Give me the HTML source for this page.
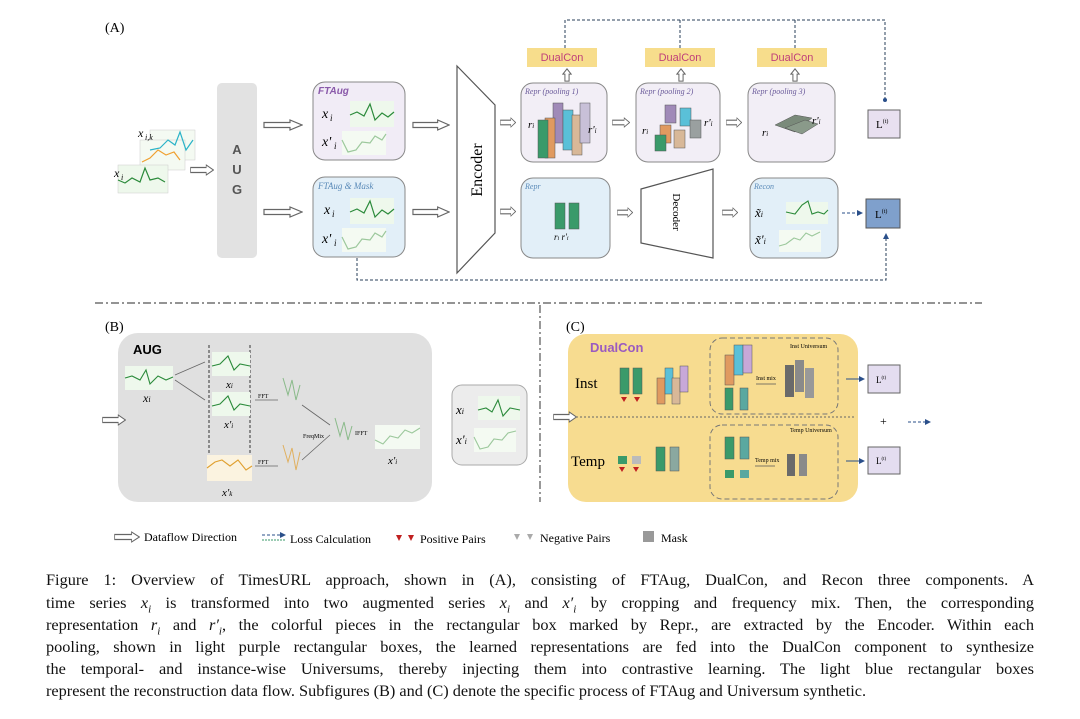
<!DOCTYPE html>
<html><head><meta charset="utf-8"><style>
html,body{margin:0;padding:0;background:#fff;}
#wrap{position:relative;width:1080px;height:719px;overflow:hidden;font-family:"Liberation Serif",serif;}
svg{position:absolute;left:0;top:0;}
.cap{position:absolute;left:46px;width:988px;font-size:16.3px;line-height:22px;color:#111;text-align:justify;text-align-last:justify;white-space:nowrap;}
.cap.last{text-align-last:left;}
i{font-style:italic}
</style></head><body><div id="wrap">
<svg width="1080" height="719" viewBox="0 0 1080 719" font-family="Liberation Serif, serif">
<defs>
<symbol id="ha" viewBox="0 0 40 12" preserveAspectRatio="none"><polygon points="1,3.5 27,3.5 27,1 39,6 27,11 27,8.5 1,8.5" fill="#fff" stroke="#666" stroke-width="1.2"/></symbol>
<symbol id="ua" viewBox="0 0 12 16" preserveAspectRatio="none"><polygon points="3.5,15 3.5,7 1,7 6,1 11,7 8.5,7 8.5,15" fill="#fff" stroke="#666" stroke-width="1.2"/></symbol>
<marker id="mk" markerWidth="6" markerHeight="6" refX="5" refY="3" orient="auto"><path d="M0,0 L6,3 L0,6z" fill="#2a4f8a"/></marker>
</defs>
<text x="105" y="32" font-size="14">(A)</text>
<!-- inputs -->
<g>
<rect x="150" y="130" width="45" height="30" fill="#f4faf2" stroke="#ccc" stroke-width=".5"/>
<rect x="140" y="140" width="45" height="30" fill="#f4faf2" stroke="#ccc" stroke-width=".5"/>
<polyline points="150,150 160,148 168,140 175,145 180,132 186,150 193,140" fill="none" stroke="#2ab3c8" stroke-width="1.2"/>
<polyline points="142,162 150,158 158,150 166,155 174,152 180,160" fill="none" stroke="#f0a030" stroke-width="1.2"/>
<rect x="118" y="165" width="50" height="28" fill="#eef8ec" stroke="#ccc" stroke-width=".5"/>
<polyline points="118,180 125,183 132,178 140,182 145,168 150,180 158,178 165,182" fill="none" stroke="#2a8a3a" stroke-width="1.2"/>
<text x="138" y="137" font-size="12" font-style="italic">x</text><text x="145" y="140" font-size="8" font-style="italic">i,k</text>
<text x="114" y="177" font-size="12" font-style="italic">x</text><text x="121" y="180" font-size="8" font-style="italic">i</text>
</g>
<use href="#ha" x="190" y="164" width="24" height="12"/>
<rect x="217" y="83" width="40" height="175" rx="5" fill="#e2e2e2"/>
<g font-family="Liberation Sans, sans-serif" font-size="13" fill="#555" text-anchor="middle" font-weight="bold"><text x="237" y="154">A</text><text x="237" y="174">U</text><text x="237" y="194">G</text></g>
<use href="#ha" x="263" y="119" width="40" height="12"/>
<use href="#ha" x="263" y="206" width="40" height="12"/>
<!-- FTAug -->
<rect x="313" y="82" width="92" height="78" rx="12" fill="#f1ecf6" stroke="#888" stroke-width="1"/>
<text x="318" y="94" font-size="10" font-style="italic" font-weight="bold" fill="#8a5aaa" font-family="Liberation Sans, sans-serif">FTAug</text>
<text x="322" y="118" font-size="14" font-style="italic">x</text><text x="330" y="121" font-size="9" font-style="italic">i</text>
<text x="322" y="146" font-size="14" font-style="italic">x'</text><text x="334" y="149" font-size="9" font-style="italic">i</text>
<rect x="350" y="101" width="44" height="26" fill="#eef8ec"/><polyline points="350,115 357,112 364,116 370,104 375,120 382,113 388,117 394,112" fill="none" stroke="#2a8a3a" stroke-width="1.2"/>
<rect x="342" y="131" width="44" height="24" fill="#f4faf2"/><polyline points="342,140 348,152 356,150 362,142 370,143 375,136 382,140 386,134" fill="none" stroke="#9cc89c" stroke-width="1.2"/>
<!-- FTAug & Mask -->
<rect x="313" y="177" width="92" height="80" rx="12" fill="#e2eff8" stroke="#888" stroke-width="1"/>
<text x="318" y="189" font-size="9" font-style="italic" fill="#5a8ab8">FTAug &amp; Mask</text>
<text x="324" y="214" font-size="14" font-style="italic">x</text><text x="332" y="217" font-size="9" font-style="italic">i</text>
<text x="322" y="243" font-size="14" font-style="italic">x'</text><text x="334" y="246" font-size="9" font-style="italic">i</text>
<rect x="350" y="198" width="44" height="26" fill="#eef8ec"/><polyline points="350,212 357,209 364,213 370,201 375,217 382,210 388,214 394,209" fill="none" stroke="#2a8a3a" stroke-width="1.2"/>
<rect x="342" y="228" width="44" height="24" fill="#f4faf2"/><polyline points="342,237 348,249 356,247 362,239 370,240 375,233 382,237 386,231" fill="none" stroke="#9cc89c" stroke-width="1.2"/>
<use href="#ha" x="412" y="119" width="38" height="12"/>
<use href="#ha" x="412" y="206" width="38" height="12"/>
<!-- Encoder -->
<polygon points="457,66 495,105 495,233 457,273" fill="#fff" stroke="#555" stroke-width="1.2"/>
<text transform="translate(482,170) rotate(-90)" font-size="16" text-anchor="middle">Encoder</text>
<use href="#ha" x="500" y="117" width="16" height="11"/>
<use href="#ha" x="500" y="206" width="16" height="11"/>
<!-- Repr top boxes -->
<g>
<rect x="521" y="83" width="86" height="79" rx="12" fill="#f2eef6" stroke="#888"/>
<text x="525" y="94" font-size="8" font-style="italic" fill="#6a5a9a">Repr  (pooling 1)</text>
<rect x="553" y="103" width="10" height="40" fill="#a08ab8" stroke="#555" stroke-width=".5"/>
<rect x="563" y="110" width="10" height="40" fill="#5ac0d8" stroke="#555" stroke-width=".5"/>
<rect x="545" y="118" width="10" height="40" fill="#e09a60" stroke="#555" stroke-width=".5"/>
<rect x="538" y="120" width="10" height="38" fill="#3a9a6a" stroke="#555" stroke-width=".5"/>
<rect x="572" y="115" width="10" height="40" fill="#d8b898" stroke="#555" stroke-width=".5"/>
<rect x="580" y="103" width="10" height="40" fill="#c8c0d8" stroke="#555" stroke-width=".5"/>
<text x="528" y="128" font-size="11" font-style="italic">r<tspan font-size="7">i</tspan></text>
<text x="588" y="133" font-size="11" font-style="italic">r'<tspan font-size="7">i</tspan></text>
</g>
<g>
<rect x="636" y="83" width="84" height="79" rx="12" fill="#f2eef6" stroke="#888"/>
<text x="640" y="94" font-size="8" font-style="italic" fill="#6a5a9a">Repr  (pooling 2)</text>
<rect x="665" y="105" width="11" height="18" fill="#a08ab8" stroke="#555" stroke-width=".5"/>
<rect x="680" y="108" width="11" height="18" fill="#5ac0d8" stroke="#555" stroke-width=".5"/>
<rect x="660" y="125" width="11" height="18" fill="#e09a60" stroke="#555" stroke-width=".5"/>
<rect x="655" y="135" width="11" height="16" fill="#3a9a6a" stroke="#555" stroke-width=".5"/>
<rect x="674" y="130" width="11" height="18" fill="#d8b898" stroke="#555" stroke-width=".5"/>
<rect x="690" y="120" width="11" height="18" fill="#9aa0a0" stroke="#555" stroke-width=".5"/>
<text x="642" y="134" font-size="11" font-style="italic">r<tspan font-size="7">i</tspan></text>
<text x="704" y="126" font-size="11" font-style="italic">r'<tspan font-size="7">i</tspan></text>
</g>
<g>
<rect x="748" y="83" width="87" height="79" rx="12" fill="#f2eef6" stroke="#888"/>
<text x="752" y="94" font-size="8" font-style="italic" fill="#6a5a9a">Repr  (pooling 3)</text>
<polygon points="775,125 795,115 812,118 795,132" fill="#7a8a7a" stroke="#555" stroke-width=".5"/>
<polygon points="785,128 805,120 818,124 802,134" fill="#8a9a8a" stroke="#555" stroke-width=".5"/>
<text x="762" y="136" font-size="11" font-style="italic">r<tspan font-size="7">i</tspan></text>
<text x="812" y="124" font-size="11" font-style="italic">r'<tspan font-size="7">i</tspan></text>
</g>
<use href="#ha" x="612" y="117" width="18" height="11"/>
<use href="#ha" x="726" y="117" width="16" height="11"/>
<!-- DualCon -->
<g font-family="Liberation Sans, sans-serif" font-size="11" fill="#c0407a" text-anchor="middle">
<rect x="527" y="48" width="70" height="19" fill="#f7dd8c"/><text x="562" y="61">DualCon</text>
<rect x="645" y="48" width="70" height="19" fill="#f7dd8c"/><text x="680" y="61">DualCon</text>
<rect x="757" y="48" width="70" height="19" fill="#f7dd8c"/><text x="792" y="61">DualCon</text>
</g>
<use href="#ua" x="562" y="68" width="10" height="14"/>
<use href="#ua" x="676" y="68" width="10" height="14"/>
<use href="#ua" x="790" y="68" width="10" height="14"/>
<path d="M565,48 V20 H885 V98 M680,20 V48 M795,20 V48" fill="none" stroke="#2a3f5a" stroke-width="1" stroke-dasharray="3,2"/>
<circle cx="885" cy="100" r="2" fill="#2a4f8a"/>
<rect x="868" y="110" width="32" height="28" fill="#e8e0f0" stroke="#666"/>
<text x="876" y="128" font-size="11">L<tspan font-size="6" dy="-5">(t)</tspan></text>
<!-- bottom row -->
<rect x="521" y="178" width="89" height="80" rx="12" fill="#e2eff8" stroke="#888"/>
<text x="525" y="189" font-size="8" font-style="italic" fill="#5a8ab8">Repr</text>
<rect x="555" y="203" width="10" height="26" fill="#3a9a6a" stroke="#555" stroke-width=".5"/>
<rect x="569" y="203" width="10" height="26" fill="#3a9a6a" stroke="#555" stroke-width=".5"/>
<text x="554" y="240" font-size="9" font-style="italic">r<tspan font-size="6">i</tspan>  r'<tspan font-size="6">i</tspan></text>
<use href="#ha" x="617" y="207" width="16" height="11"/>
<polygon points="641,189 713,169 713,258 641,243" fill="#fff" stroke="#555" stroke-width="1.2"/>
<text transform="translate(673,212) rotate(90)" font-size="11" text-anchor="middle">Decoder</text>
<use href="#ha" x="722" y="207" width="16" height="11"/>
<rect x="750" y="178" width="88" height="80" rx="12" fill="#e2eff8" stroke="#888"/>
<text x="754" y="189" font-size="8" font-style="italic" fill="#5a8ab8">Recon</text>
<text x="755" y="217" font-size="13" font-style="italic">x̃<tspan font-size="8">i</tspan></text>
<text x="755" y="244" font-size="13" font-style="italic">x̃'<tspan font-size="8">i</tspan></text>
<rect x="786" y="202" width="42" height="22" fill="#eef8ec"/><polyline points="786,212 795,214 802,205 808,201 812,214 818,212 824,214 828,210" fill="none" stroke="#2a8a3a" stroke-width="1.1"/>
<rect x="779" y="230" width="42" height="22" fill="#f4faf2"/><polyline points="779,246 786,244 794,238 800,240 806,233 812,236 820,232" fill="none" stroke="#9cc89c" stroke-width="1.1"/>
<line x1="842" y1="213" x2="862" y2="213" stroke="#2a4f8a" stroke-dasharray="3,2" marker-end="url(#mk)"/>
<rect x="866" y="199" width="34" height="29" fill="#7fa0cc" stroke="#555"/>
<text x="875" y="218" font-size="11">L<tspan font-size="6" dy="-5">(t)</tspan></text>
<path d="M357,258 V280 H886 V234" fill="none" stroke="#2a3f5a" stroke-width="1" stroke-dasharray="3,2" marker-end="url(#mk)"/>
<!-- separators -->
<line x1="95" y1="303" x2="982" y2="303" stroke="#555" stroke-width="1.2" stroke-dasharray="8,3,2,3"/>
<line x1="540" y1="305" x2="540" y2="502" stroke="#555" stroke-width="1.2" stroke-dasharray="8,3,2,3"/>
<!-- (B) -->
<text x="105" y="331" font-size="14">(B)</text>
<rect x="118" y="333" width="314" height="169" rx="20" fill="#e0e0e0"/>
<text x="133" y="354" font-size="13" font-weight="bold" font-family="Liberation Sans, sans-serif">AUG</text>
<use href="#ha" x="102" y="414" width="24" height="12"/>
<rect x="125" y="366" width="48" height="24" fill="#eef8ec"/><polyline points="125,378 132,376 140,380 146,370 150,384 158,376 166,380 173,377" fill="none" stroke="#2a8a3a" stroke-width="1.1"/>
<text x="143" y="402" font-size="12" font-style="italic">x<tspan font-size="8">i</tspan></text>
<line x1="209" y1="345" x2="209" y2="480" stroke="#333" stroke-dasharray="3,2"/>
<line x1="250" y1="345" x2="250" y2="480" stroke="#333" stroke-dasharray="3,2"/>
<rect x="212" y="352" width="38" height="24" fill="#eef8ec"/><polyline points="212,366 220,364 228,356 234,370 240,364 250,366" fill="none" stroke="#2a8a3a" stroke-width="1.1"/>
<text x="226" y="388" font-size="11" font-style="italic">x<tspan font-size="7">i</tspan></text>
<rect x="212" y="392" width="38" height="24" fill="#eef8ec"/><polyline points="212,406 220,404 228,396 234,410 240,404 250,406" fill="none" stroke="#2a8a3a" stroke-width="1.1"/>
<text x="224" y="428" font-size="11" font-style="italic">x'<tspan font-size="7">i</tspan></text>
<rect x="207" y="455" width="45" height="26" fill="#fbf3e0"/><polyline points="207,468 215,462 222,460 230,466 238,460 246,470 252,466" fill="none" stroke="#e0a030" stroke-width="1.1"/>
<text x="222" y="496" font-size="11" font-style="italic">x'<tspan font-size="7">k</tspan></text>
<path d="M175,375 L205,362 M175,380 L205,400" stroke="#666" stroke-width=".8"/>
<path d="M255,400 L278,400 M255,466 L278,466" stroke="#666" stroke-width=".8"/>
<text x="258" y="398" font-size="6">FFT</text><text x="258" y="464" font-size="6">FFT</text>
<polyline points="283,378 288,395 292,380 296,400 300,385" fill="none" stroke="#8aba8a"/>
<polyline points="283,445 288,462 292,448 296,470 300,452" fill="none" stroke="#e0b060"/>
<path d="M302,405 L330,425 M302,460 L330,435" stroke="#666" stroke-width=".8"/>
<text x="303" y="438" font-size="6">FreqMix</text>
<polyline points="335,418 340,436 344,422 348,440 352,426" fill="none" stroke="#8aba8a"/>
<text x="355" y="435" font-size="6">IFFT</text>
<rect x="375" y="425" width="45" height="24" fill="#f4faf2"/><polyline points="375,440 383,444 390,436 398,438 405,430 412,433 420,428" fill="none" stroke="#9cc89c" stroke-width="1.1"/>
<text x="388" y="464" font-size="11" font-style="italic">x'<tspan font-size="7">i</tspan></text>
<rect x="452" y="385" width="75" height="80" rx="10" fill="#ececec" stroke="#aaa"/>
<text x="456" y="414" font-size="13" font-style="italic">x<tspan font-size="8">i</tspan></text>
<text x="456" y="444" font-size="13" font-style="italic">x'<tspan font-size="8">i</tspan></text>
<rect x="478" y="396" width="42" height="24" fill="#eef8ec"/><polyline points="478,410 486,408 492,412 498,400 503,416 510,408 520,410" fill="none" stroke="#2a8a3a" stroke-width="1.1"/>
<rect x="474" y="428" width="42" height="24" fill="#f4faf2"/><polyline points="474,437 480,449 488,447 494,439 502,440 508,433 516,431" fill="none" stroke="#9cc89c" stroke-width="1.1"/>
<!-- (C) -->
<text x="566" y="331" font-size="14">(C)</text>
<rect x="568" y="334" width="290" height="168" rx="18" fill="#f7dc90"/>
<text x="590" y="352" font-size="13" font-weight="bold" fill="#9a5ac0" font-family="Liberation Sans, sans-serif">DualCon</text>
<text x="575" y="388" font-size="15">Inst</text>
<text x="571" y="466" font-size="15">Temp</text>
<line x1="572" y1="417" x2="856" y2="417" stroke="#666" stroke-dasharray="2,2"/>
<use href="#ha" x="553" y="411" width="24" height="12"/>
<rect x="710" y="338" width="128" height="76" rx="12" fill="none" stroke="#777" stroke-dasharray="5,3"/>
<rect x="710" y="425" width="128" height="74" rx="12" fill="none" stroke="#777" stroke-dasharray="5,3"/>
<text x="790" y="348" font-size="6">Inst Universum</text>
<text x="790" y="432" font-size="6">Temp Universum</text>
<rect x="620" y="368" width="9" height="26" fill="#3a9a6a" stroke="#555" stroke-width=".5"/>
<rect x="633" y="368" width="9" height="26" fill="#3a9a6a" stroke="#555" stroke-width=".5"/>
<polygon points="621,397 627,397 624,402" fill="#c02020"/><polygon points="634,397 640,397 637,402" fill="#c02020"/>
<rect x="657" y="378" width="8" height="26" fill="#e09a60" stroke="#555" stroke-width=".5"/>
<rect x="665" y="368" width="8" height="26" fill="#5ac0d8" stroke="#555" stroke-width=".5"/>
<rect x="672" y="378" width="8" height="26" fill="#d8b898" stroke="#555" stroke-width=".5"/>
<rect x="680" y="366" width="8" height="26" fill="#c8a8d8" stroke="#555" stroke-width=".5"/>
<rect x="725" y="355" width="9" height="30" fill="#e09a60" stroke="#555" stroke-width=".5"/>
<rect x="734" y="345" width="9" height="30" fill="#5ac0d8" stroke="#555" stroke-width=".5"/>
<rect x="743" y="345" width="9" height="28" fill="#c8a8d8" stroke="#555" stroke-width=".5"/>
<rect x="725" y="388" width="8" height="22" fill="#3a9a6a" stroke="#555" stroke-width=".5"/>
<rect x="740" y="388" width="8" height="22" fill="#5aa8a0" stroke="#555" stroke-width=".5"/>
<text x="756" y="380" font-size="6">Inst mix</text><line x1="756" y1="384" x2="776" y2="384" stroke="#555" stroke-width=".8"/>
<rect x="785" y="365" width="9" height="32" fill="#6a6a6a"/><rect x="795" y="360" width="9" height="32" fill="#8a8a8a"/><rect x="805" y="368" width="9" height="30" fill="#999"/>
<line x1="846" y1="379" x2="864" y2="379" stroke="#2a4f8a" marker-end="url(#mk)"/>
<rect x="868" y="365" width="32" height="28" fill="#e4ddf0" stroke="#666"/>
<text x="876" y="383" font-size="9">L<tspan font-size="5" dy="-4">(t)</tspan></text>
<rect x="618" y="456" width="9" height="8" fill="#3a9a6a"/><rect x="632" y="456" width="9" height="8" fill="#bbb"/>
<polygon points="619,467 625,467 622,472" fill="#c02020"/><polygon points="633,467 639,467 636,472" fill="#c02020"/>
<rect x="656" y="447" width="9" height="24" fill="#3a9a6a" stroke="#555" stroke-width=".5"/><rect x="670" y="447" width="9" height="24" fill="#8aa8a0" stroke="#555" stroke-width=".5"/>
<rect x="725" y="437" width="9" height="22" fill="#3a9a6a" stroke="#555" stroke-width=".5"/><rect x="740" y="437" width="9" height="22" fill="#5aa8a0" stroke="#555" stroke-width=".5"/>
<rect x="725" y="470" width="9" height="8" fill="#3a9a6a"/><rect x="740" y="470" width="9" height="8" fill="#5aa8a0"/>
<text x="755" y="462" font-size="6">Temp mix</text><line x1="755" y1="466" x2="775" y2="466" stroke="#555" stroke-width=".8"/>
<rect x="787" y="454" width="8" height="22" fill="#6a6a6a"/><rect x="799" y="454" width="8" height="22" fill="#8a8a8a"/>
<line x1="846" y1="461" x2="864" y2="461" stroke="#2a4f8a" marker-end="url(#mk)"/>
<rect x="868" y="447" width="32" height="27" fill="#e4ddf0" stroke="#666"/>
<text x="876" y="464" font-size="9">L<tspan font-size="5" dy="-4">(t)</tspan></text>
<text x="880" y="425" font-size="12">+</text>
<line x1="908" y1="422" x2="930" y2="422" stroke="#2a4f8a" stroke-dasharray="3,2" marker-end="url(#mk)"/>
<!-- legend -->
<g font-size="12">
<use href="#ha" x="114" y="531" width="26" height="12"/>
<text x="144" y="541">Dataflow Direction</text>
<line x1="262" y1="535" x2="285" y2="535" stroke="#2a4f8a" stroke-dasharray="3,2" marker-end="url(#mk)"/>
<line x1="262" y1="540" x2="285" y2="540" stroke="#3a9a6a" stroke-dasharray="2,1"/>
<text x="290" y="543">Loss Calculation</text>
<polygon points="396,535 402,535 399,541" fill="#c02020"/><polygon points="408,535 414,535 411,541" fill="#c02020"/>
<text x="420" y="543">Positive Pairs</text>
<polygon points="514,534 520,534 517,540" fill="#aaa"/><polygon points="527,534 533,534 530,540" fill="#aaa"/>
<text x="540" y="542">Negative Pairs</text>
<rect x="643" y="531" width="11" height="11" fill="#999"/>
<text x="661" y="542">Mask</text>
</g>
</svg>
<div class="cap" style="top:569px">Figure 1: Overview of TimesURL approach, shown in (A), consisting of FTAug, DualCon, and Recon three components. A</div>
<div class="cap" style="top:592px">time series <i>x<sub style="font-size:11px">i</sub></i> is transformed into two augmented series <i>x<sub style="font-size:11px">i</sub></i> and <i>x′<sub style="font-size:11px">i</sub></i> by cropping and frequency mix. Then, the corresponding</div>
<div class="cap" style="top:614px">representation <i>r<sub style="font-size:11px">i</sub></i> and <i>r′<sub style="font-size:11px">i</sub></i>, the colorful pieces in the rectangular box marked by Repr., are extracted by the Encoder. Within each</div>
<div class="cap" style="top:636px">pooling, shown in light purple rectangular boxes, the learned representations are fed into the DualCon component to synthesize</div>
<div class="cap" style="top:658px">the temporal- and instance-wise Universums, thereby injecting them into contrastive learning. The light blue rectangular boxes</div>
<div class="cap last" style="top:680px">represent the reconstruction data flow. Subfigures (B) and (C) denote the specific process of FTAug and Universum synthetic.</div>
</div></body></html>
